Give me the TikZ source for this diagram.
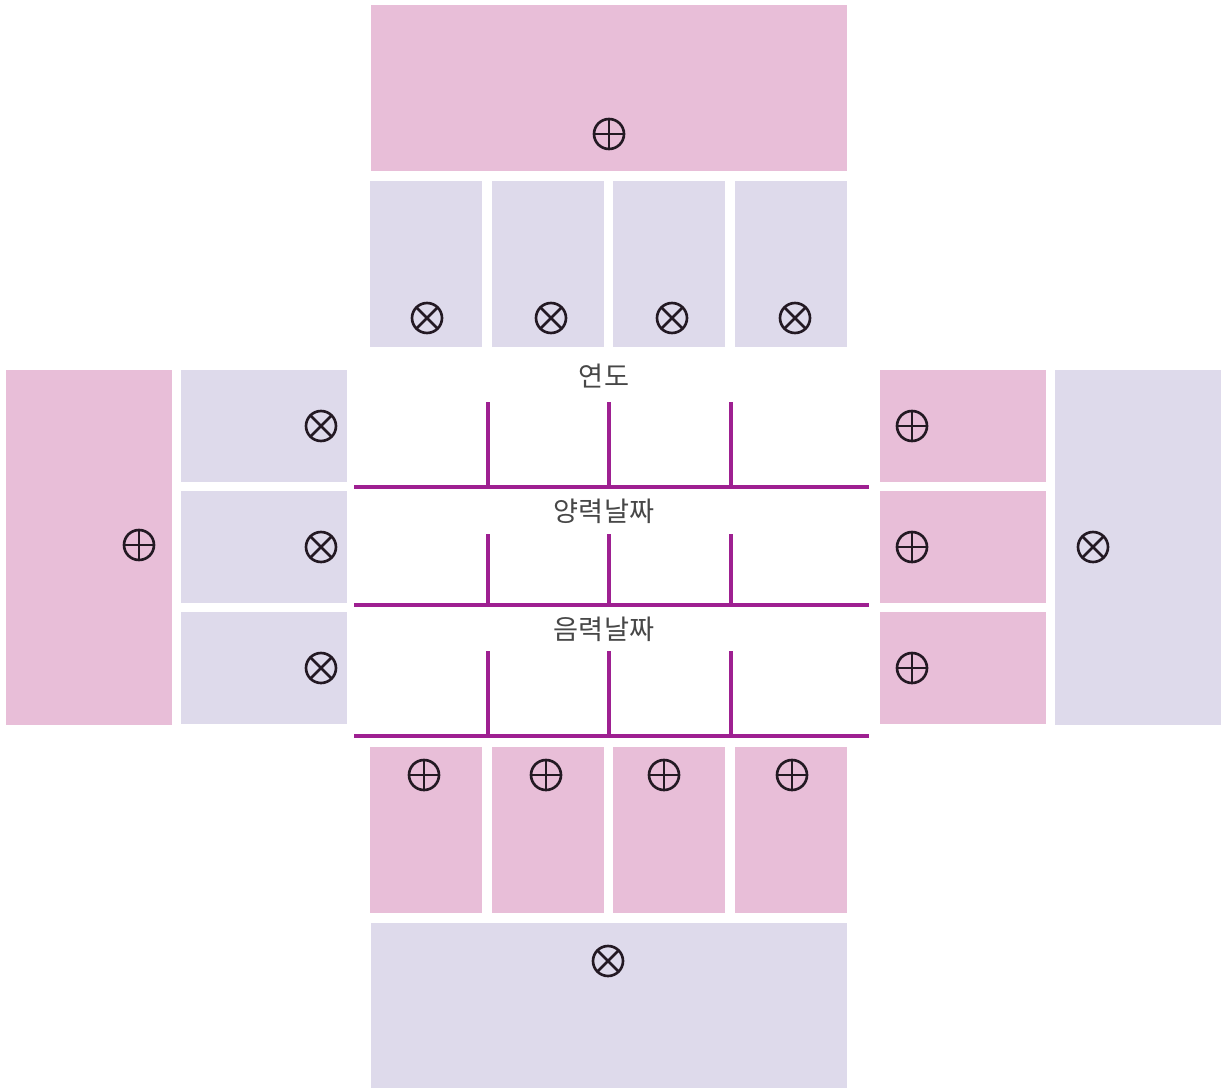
\documentclass[tikz,border=0pt]{standalone}
\usepackage{fontspec}
\newfontfamily\kor{Noto Sans CJK KR}
\usetikzlibrary{positioning,calc}
\definecolor{pinkbox}{RGB}{232,190,216}
\definecolor{lilacbox}{RGB}{222,218,235}
\definecolor{rulecol}{RGB}{158,32,145}
\definecolor{ink}{RGB}{35,25,35}
\tikzset{
  pbox/.style={fill=pinkbox, inner sep=0pt, outer sep=0pt},
  lbox/.style={fill=lilacbox, inner sep=0pt, outer sep=0pt},
  tall/.style={minimum width=2.24cm, minimum height=3.32cm},
  wide/.style={minimum width=3.32cm, minimum height=2.24cm},
  big/.style={minimum width=9.52cm, minimum height=3.32cm},
  sidebig/.style={minimum width=3.32cm, minimum height=7.10cm},
  sym/.style={circle, draw=ink, line width=1.5pt, minimum size=0.6cm, inner sep=0pt},
  oplus/.style={sym, path picture={
      \draw[ink, line width=1.5pt] (path picture bounding box.north) -- (path picture bounding box.south)
        (path picture bounding box.west) -- (path picture bounding box.east);}},
  otimes/.style={sym, path picture={
      \draw[ink, line width=1.5pt] (path picture bounding box.north west) -- (path picture bounding box.south east)
        (path picture bounding box.north east) -- (path picture bounding box.south west);}},
  rulebar/.style={draw=rulecol, line width=1.8pt},
  lab/.style={font=\kor\fontsize{15.5}{18}\selectfont, text=black!72}
}
\begin{document}
\begin{tikzpicture}[x=0.02cm, y=-0.02cm]
\useasboundingbox (0,0) rectangle (1221,1088);
% top: big pink block and four columns
\node[pbox,big] (topbig) at (609,88) {};
\node[oplus] (topsym) at (609,134) {};
\foreach \x/\s/\n in {426/427/1,548/551/2,669/672/3,791/795/4} {
  \node[lbox,tall] (top\n) at (\x,264) {};
  \node[otimes] (topsym\n) at (\s,318) {};
}
% left side
\node[pbox,sidebig] (leftbig) at (89,547.5) {};
\node[oplus] (leftsym) at (139,545) {};
\foreach \y/\n in {426/1,547/2,668/3} {
  \node[lbox,wide] (left\n) at (264,\y) {};
  \node[otimes] (leftsym\n) at (321,\y) {};
}
% right side
\node[lbox,sidebig] (rightbig) at (1138,547.5) {};
\node[otimes] (rightsym) at (1093,547) {};
\foreach \y/\n in {426/1,547/2,668/3} {
  \node[pbox,wide] (right\n) at (963,\y) {};
  \node[oplus] (rightsym\n) at (912,\y) {};
}
% bottom: four columns and big lilac block
\foreach \x/\s/\n in {426/424/1,548/546/2,669/664/3,791/792/4} {
  \node[pbox,tall] (bot\n) at (\x,830) {};
  \node[oplus] (botsym\n) at (\s,775) {};
}
\node[lbox,big] (botbig) at (609,1005.5) {};
\node[otimes] (botsym) at (608,961) {};
% middle grid
\node[lab] (year) at (604,376) {연도};
\node[lab] (solar) at (604,511) {양력날짜};
\node[lab] (lunar) at (604,629) {음력날짜};
\foreach \ytop/\ybot in {402/487,534/605,651/736} {
  \draw[rulebar] (354,\ybot) -- (869,\ybot);
  \foreach \x in {488,609,731}
    \draw[rulebar] (\x,\ytop) -- (\x,\ybot);
}
\end{tikzpicture}
\end{document}
